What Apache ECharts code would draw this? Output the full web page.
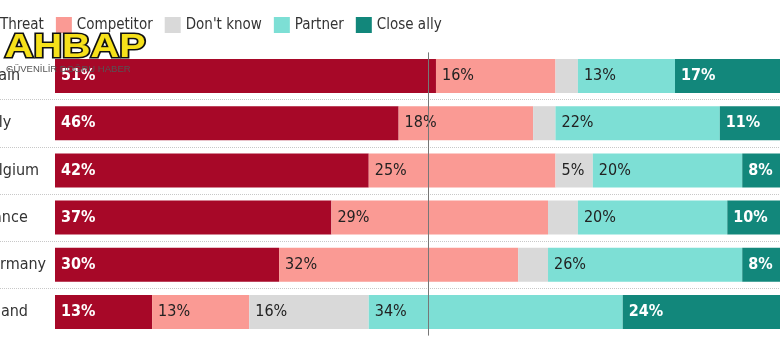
<!DOCTYPE html>
<html>
<head>
<meta charset="utf-8">
<script src="https://cdn.jsdelivr.net/npm/echarts@6/dist/echarts.min.js"></script>
<style>html,body{margin:0;padding:0;background:#fff}#c{width:780px;height:363px}</style>
</head>
<body>
<div id="c"></div>
<script>
const categories = ['Spain', 'Italy', 'Belgium', 'France', 'Germany', 'Poland'];
const seriesNames = ['Threat', 'Competitor', "Don't know", 'Partner', 'Close ally'];
const threat = [51, 46, 42, 37, 30, 13];
const competitor = [16, 18, 25, 29, 32, 13];
const dontKnow = [3, 3, 5, 4, 4, 16];
const partner = [13, 22, 20, 20, 26, 34];
const closeAlly = [17, 11, 8, 10, 8, 24];
const referenceValue = 50;

const FONT = "'Liberation Sans Narrow', 'DejaVu Sans Condensed', sans-serif";
const colors = ['#a70828', '#fa9a94', '#d9d9d9', '#7ddfd5', '#12877b'];
const labelColors = ['#ffffff', '#222222', '#222222', '#222222', '#ffffff'];
const labelWeights = ['bold', 'normal', 'normal', 'normal', 'bold'];
const values = [threat, competitor, dontKnow, partner, closeAlly];

const GRID_TOP = 52.4, GRID_BOTTOM = 27.4;

const series = values.map((arr, i) => ({
  name: seriesNames[i],
  type: 'bar',
  stack: 'total',
  xAxisIndex: 0,
  yAxisIndex: 0,
  barWidth: 34,
  data: arr,
  itemStyle: { color: colors[i] },
  label: {
    show: true,
    position: 'insideLeft',
    distance: 6,
    fontFamily: FONT,
    fontSize: 16,
    fontWeight: labelWeights[i],
    color: labelColors[i],
    formatter: p => (p.value >= 5 ? p.value + '%' : '')
  },
  emphasis: { disabled: true }
}));

series[4].markLine = {
  silent: true,
  symbol: 'none',
  label: { show: false },
  lineStyle: { color: '#777', width: 1, type: 'solid' },
  data: [{ xAxis: referenceValue }],
  z: 10
};

const chart = echarts.init(document.getElementById('c'));
chart.setOption({
  animation: false,
  legend: {
    data: seriesNames,
    left: -26,
    top: 12,
    itemWidth: 16,
    itemHeight: 16,
    itemGap: 12,
    icon: 'rect',
    textStyle: { fontFamily: FONT, fontSize: 15, color: '#333' }
  },
  grid: [
    { left: 55, right: -22, top: GRID_TOP, bottom: GRID_BOTTOM, outerBoundsMode: 'none', containLabel: false },
    { left: 0, right: 0, top: GRID_TOP, bottom: GRID_BOTTOM, outerBoundsMode: 'none', containLabel: false }
  ],
  xAxis: [
    { type: 'value', min: 0, max: 100, gridIndex: 0, show: false },
    { type: 'value', min: 0, max: 100, gridIndex: 1, show: false }
  ],
  yAxis: [
    {
      type: 'category', data: categories, inverse: true, gridIndex: 0,
      axisLine: { show: false }, axisTick: { show: false }, splitLine: { show: false },
      axisLabel: { margin: 75, align: 'left', fontFamily: FONT, fontSize: 16, color: '#333' }
    },
    {
      type: 'category', data: categories, inverse: true, gridIndex: 1,
      axisLine: { show: false }, axisTick: { show: false }, axisLabel: { show: false },
      splitLine: { show: true, showMinLine: false, showMaxLine: false,
        lineStyle: { color: '#c8c8c8', type: 'dotted', width: 1 } }
    }
  ],
  series: series,
  graphic: [
    {
      type: 'text', left: 3, top: 30, z: 100, scaleX: 1.2,
      style: {
        text: 'AHBAP', fontFamily: "'Liberation Sans', Arial, sans-serif",
        fontSize: 33, fontWeight: 900, fill: '#f6e11a', stroke: '#111', lineWidth: 3
      }
    },
    {
      type: 'text', left: 6, top: 64, z: 100,
      style: {
        text: 'GÜVENİLİR DOĞRU HABER', fontFamily: "'Liberation Sans', Arial, sans-serif",
        fontSize: 9.5, fill: '#555'
      }
    }
  ]
});
</script>
</body>
</html>
